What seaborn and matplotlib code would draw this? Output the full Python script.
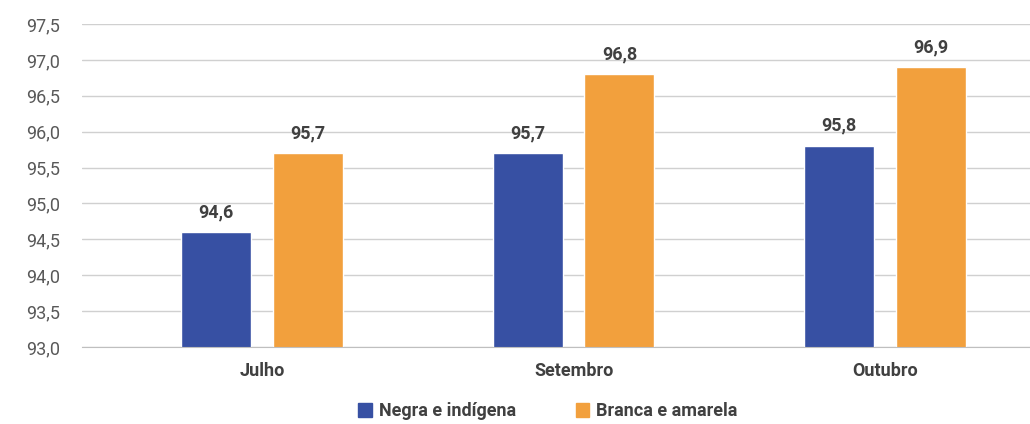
import pandas as pd
import numpy as np
import matplotlib as mpl
import matplotlib.pyplot as plt
import seaborn as sns
from matplotlib.ticker import FuncFormatter, MultipleLocator
from matplotlib.patches import Patch
mpl.use('Agg')

meses = ['Julho', 'Setembro', 'Outubro']
grupos = ['Negra e indígena', 'Branca e amarela']
negra = [94.6, 95.7, 95.8]
branca = [95.7, 96.8, 96.9]
cores = ['#3750A3', '#F2A03D']

df = pd.DataFrame({
    'mes': meses * 2,
    'grupo': [grupos[0]] * 3 + [grupos[1]] * 3,
    'valor': negra + branca,
})

sns.set_style('white')
plt.rcParams['font.family'] = ['Roboto', 'DejaVu Sans']

fig = plt.figure(figsize=(10.3, 4.24), dpi=100)
ax = fig.add_axes([0.0796, 0.1816, 0.9204, 0.7618])

sns.barplot(data=df, x='mes', y='valor', hue='grupo', palette=cores,
            width=0.588, gap=0.235, ax=ax, legend=False, saturation=1)

ax.set_ylim(93.0, 97.5)
ax.set_xlim(-0.578, 2.465)
ax.yaxis.set_major_locator(MultipleLocator(0.5))
ax.yaxis.set_major_formatter(FuncFormatter(lambda v, p: f'{v:.1f}'.replace('.', ',')))
ax.grid(axis='y', color='#d0d0d0', linewidth=1)
ax.set_axisbelow(True)
for s in ['top', 'right', 'left']:
    ax.spines[s].set_visible(False)
ax.spines['bottom'].set_color('#bfbfbf')
ax.tick_params(axis='y', length=0, labelsize=13, labelcolor='#595959', pad=16)
ax.tick_params(axis='x', length=0, labelsize=13, labelcolor='#404040', pad=11)
for t in ax.get_xticklabels():
    t.set_fontweight('bold')
ax.set_xlabel('')
ax.set_ylabel('')

for cont in ax.containers:
    ax.bar_label(cont, labels=[f'{v:.1f}'.replace('.', ',') for v in cont.datavalues],
                 padding=8, fontsize=13, fontweight='bold', color='#404040')

handles = [Patch(color=c) for c in cores]
fig.legend(handles, grupos, loc='center', bbox_to_anchor=(0.532, 0.03), ncol=2,
           frameon=False, handlelength=0.75, handleheight=0.75, columnspacing=3.3,
           handletextpad=0.4, prop={'weight': 'bold', 'size': 13},
           labelcolor='#404040', borderpad=0.1)

fig.savefig('out.png', dpi=100)
